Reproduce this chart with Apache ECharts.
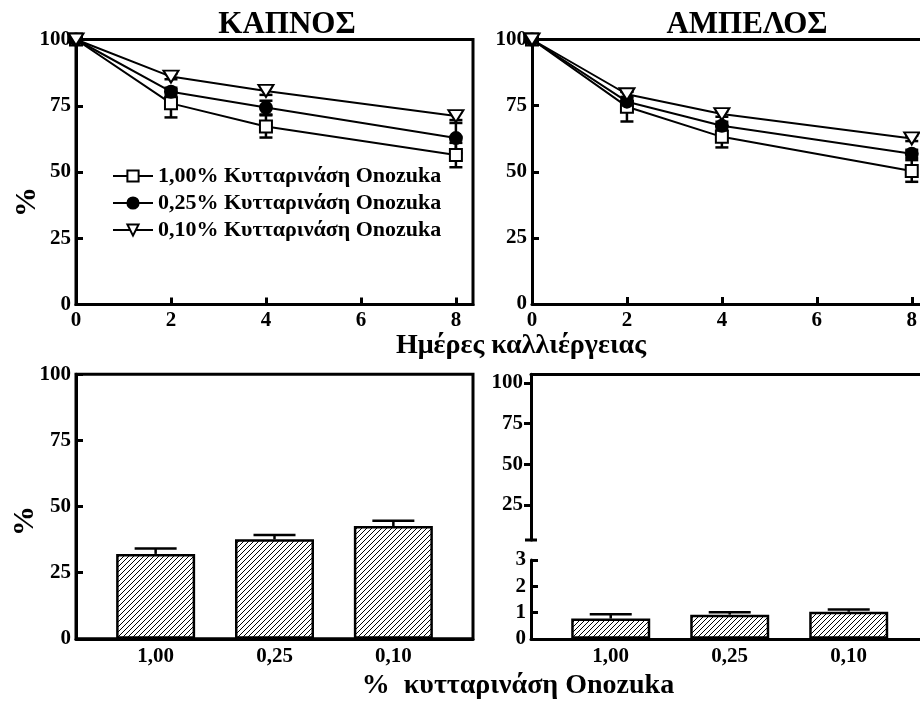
<!DOCTYPE html>
<html><head><meta charset="utf-8">
<script src="https://cdn.jsdelivr.net/npm/echarts@6/dist/echarts.min.js"></script>
<style>html,body{margin:0;padding:0;background:#fff}#c{width:920px;height:702px}</style>
</head><body><div id="c"></div>
<script>
// ---- data ----
const days = [0, 2, 4, 8];
const kapnos100 = [100, 75.9, 67.2, 56.4];
const kapnos100Err = [0, 5.3, 4.2, 4.6];
const kapnos025 = [100, 80.3, 74.3, 62.8];
const kapnos025Err = [0, 1.5, 2.6, 5.7];
const kapnos010 = [100, 86.0, 80.6, 71.1];
const kapnos010Err = [0, 1.0, 1.5, 1.5];
const ampelos100 = [100, 74.6, 63.2, 50.3];
const ampelos100Err = [0, 5.6, 4.0, 4.1];
const ampelos025 = [100, 76.5, 67.4, 56.8];
const ampelos025Err = [0, 1.5, 1.5, 1.5];
const ampelos010 = [100, 79.3, 71.8, 62.6];
const ampelos010Err = [0, 1.0, 1.0, 1.0];
const barCategories = ['1,00', '0,25', '0,10'];
const kapnosBars = [32.1, 37.6, 42.6];
const kapnosBarsErr = [2.0, 1.6, 2.0];
const ampelosBars = [0.77, 0.92, 1.03];
const ampelosBarsErr = [0.16, 0.09, 0.09];
const seriesNames = ['1,00% Κυτταρινάση Onozuka', '0,25% Κυτταρινάση Onozuka', '0,10% Κυτταρινάση Onozuka'];
const dayTicks = [0, 2, 4, 6, 8];
const pctTicks = [0, 25, 50, 75, 100];
const upperTicks = [25, 50, 75, 100];
const lowerTicks = [0, 1, 2, 3];
const barPositions = [1, 2, 3];

// ---- styling helpers ----
const FONT = 'Liberation Serif, Times New Roman, serif';
const labelStyle = { fontFamily: FONT, fontWeight: 'bold', fontSize: 21, color: '#000' };
const axisLine = { show: true, lineStyle: { color: '#000', width: 3 } };

// hatch pattern
const tile = document.createElement('canvas');
tile.width = 5; tile.height = 5;
const tctx = tile.getContext('2d');
tctx.fillStyle = '#fff'; tctx.fillRect(0, 0, 5, 5);
tctx.fillStyle = '#000';
for (let i = 0; i < 5; i++) tctx.fillRect(i, 4 - i, 1, 1);
const hatch = { image: tile, repeat: 'repeat' };

function errRender(capHalf, upOnly) {
  return function (params, api) {
    const x = api.value(0), y = api.value(1), e = api.value(2);
    if (!e) return null;
    const top = api.coord([x, y + e]);
    const bot = api.coord([x, upOnly ? y : y - e]);
    const st = { stroke: '#000', lineWidth: 2.5 };
    const ch = [
      { type: 'line', shape: { x1: top[0], y1: top[1], x2: bot[0], y2: bot[1] }, style: st },
      { type: 'line', shape: { x1: top[0] - capHalf, y1: top[1], x2: top[0] + capHalf, y2: top[1] }, style: st }
    ];
    if (!upOnly) ch.push({ type: 'line', shape: { x1: bot[0] - capHalf, y1: bot[1], x2: bot[0] + capHalf, y2: bot[1] }, style: st });
    return { type: 'group', children: ch };
  };
}

const markers = [
  { symbol: 'emptyRect', symbolSize: 12, symbolRotate: 0 },
  { symbol: 'circle', symbolSize: 12, symbolRotate: 0 },
  { symbol: 'emptyTriangle', symbolSize: [15, 12], symbolRotate: 180 }
];

function lineGroup(grid, vals, errs) {
  const out = [];
  vals.forEach((v, k) => {
    out.push({
      type: 'custom', xAxisIndex: grid, yAxisIndex: grid, z: 1,
      renderItem: errRender(6.5, false), encode: { x: 0, y: 1 },
      data: days.map((d, i) => [d, v[i], errs[k][i]])
    });
  });
  vals.forEach((v, k) => {
    out.push({
      type: 'line', name: seriesNames[k], xAxisIndex: grid, yAxisIndex: grid, z: 3,
      symbol: markers[k].symbol, symbolSize: markers[k].symbolSize, symbolRotate: markers[k].symbolRotate,
      lineStyle: { color: '#000', width: 2 },
      itemStyle: { color: '#000', borderColor: '#000', borderWidth: 2 },
      emphasis: { disabled: true },
      data: days.map((d, i) => [d, v[i]])
    });
  });
  return out;
}

function barGroup(xIdx, yIdx, vals, errs) {
  return [
    {
      type: 'bar', xAxisIndex: xIdx, yAxisIndex: yIdx, barWidth: 79, z: 2,
      itemStyle: { color: hatch, borderColor: '#000', borderWidth: 2.5 },
      data: barPositions.map((p, i) => [p, vals[i]])
    },
    {
      type: 'custom', xAxisIndex: xIdx, yAxisIndex: yIdx, z: 3,
      renderItem: errRender(21, true), encode: { x: 0, y: 1 },
      data: barPositions.map((p, i) => [p, vals[i], errs[i]])
    }
  ];
}

function dayAxis(grid, max, pos, show) {
  return {
    type: 'value', gridIndex: grid, min: 0, max: max, position: pos || 'bottom', splitLine: { show: false },
    axisLine: axisLine,
    axisTick: { show: show !== false, inside: true, length: 7, lineStyle: { color: '#000', width: 3 }, customValues: dayTicks },
    axisLabel: Object.assign({ show: show !== false, margin: 6, customValues: dayTicks }, labelStyle)
  };
}
function catAxis(grid, max, showLabels, pos) {
  return {
    type: 'value', gridIndex: grid, min: 0.33, max: max, position: pos || 'bottom', splitLine: { show: false },
    axisLine: axisLine, axisTick: { show: false },
    axisLabel: Object.assign({ show: showLabels, margin: 7, customValues: barPositions,
      formatter: v => barCategories[Math.round(v) - 1] }, labelStyle)
  };
}
function yAxisDef(grid, min, max, ticks, inside, margin, extra) {
  return Object.assign({
    type: 'value', gridIndex: grid, min: min, max: max, splitLine: { show: false },
    axisLine: axisLine,
    axisTick: { inside: inside, length: 7, lineStyle: { color: '#000', width: 3 }, customValues: ticks },
    axisLabel: Object.assign({ margin: margin, customValues: ticks }, labelStyle)
  }, extra || {});
}

const gridBox = { show: true, borderColor: '#000', borderWidth: 3, backgroundColor: 'transparent' };

const option = {
  animation: false,
  backgroundColor: '#fff',
  grid: [
    Object.assign({ left: 76, top: 39.5, width: 397, height: 265 }, gridBox),
    { left: 532, top: 39.5, width: 388, height: 264.5 },
    Object.assign({ left: 76, top: 374.3, width: 397, height: 264.5 }, gridBox),
    { left: 531, top: 374.3, width: 389, height: 165.7 },
    { left: 531, top: 560, width: 389, height: 78.8 },
  ],
  xAxis: [
    dayAxis(0, 8.36),
    dayAxis(1, 8.168),
    catAxis(2, 3.67, true),
    catAxis(3, 3.599, false, 'top'),
    catAxis(4, 3.599, true),
    dayAxis(1, 8.168, 'top', false)
  ],
  yAxis: [
    yAxisDef(0, 0, 100, pctTicks, true, 5),
    yAxisDef(1, 0, 100, pctTicks, true, 5),
    yAxisDef(2, 0, 100, pctTicks, true, 5),
    yAxisDef(3, 3.5, 105.3, upperTicks, false, 8, {
      axisLine: { show: true, symbol: ['rect', 'none'], symbolSize: [12, 3], lineStyle: { color: '#000', width: 3 } }
    }),
    yAxisDef(4, 0, 3, lowerTicks, true, 5)
  ],
  legend: {
    orient: 'vertical', left: 112, top: 165, padding: 0, itemWidth: 40, itemHeight: 14, itemGap: 5,
    textStyle: { fontFamily: FONT, fontWeight: 'bold', fontSize: 22, color: '#000' },
    data: seriesNames, selectedMode: false
  },
  graphic: [
    { type: 'text', x: 287, y: 25, style: { text: 'ΚΑΠΝΟΣ', fontFamily: FONT, fontWeight: 'bold', fontSize: 31, fill: '#000', align: 'center', verticalAlign: 'middle' } },
    { type: 'text', x: 747, y: 25, style: { text: 'ΑΜΠΕΛΟΣ', fontFamily: FONT, fontWeight: 'bold', fontSize: 31, fill: '#000', align: 'center', verticalAlign: 'middle' } },
    { type: 'text', x: 521, y: 346, style: { text: 'Ημέρες καλλιέργειας', fontFamily: FONT, fontWeight: 'bold', fontSize: 28, fill: '#000', align: 'center', verticalAlign: 'middle' } },
    { type: 'text', x: 518, y: 686, style: { text: '%  κυτταρινάση Onozuka', fontFamily: FONT, fontWeight: 'bold', fontSize: 28, fill: '#000', align: 'center', verticalAlign: 'middle' } },
    { type: 'text', x: 27, y: 202, rotation: Math.PI / 2, style: { text: '%', fontFamily: FONT, fontWeight: 'bold', fontSize: 30, fill: '#000', align: 'center', verticalAlign: 'middle' } },
    { type: 'text', x: 25, y: 521, rotation: Math.PI / 2, style: { text: '%', fontFamily: FONT, fontWeight: 'bold', fontSize: 30, fill: '#000', align: 'center', verticalAlign: 'middle' } }
  ],
  series: [].concat(
    lineGroup(0, [kapnos100, kapnos025, kapnos010], [kapnos100Err, kapnos025Err, kapnos010Err]),
    lineGroup(1, [ampelos100, ampelos025, ampelos010], [ampelos100Err, ampelos025Err, ampelos010Err]),
    barGroup(2, 2, kapnosBars, kapnosBarsErr),
    barGroup(4, 4, ampelosBars, ampelosBarsErr)
  )
};

const chart = echarts.init(document.getElementById('c'), null, { renderer: 'canvas' });
chart.setOption(option);
</script>
</body></html>
